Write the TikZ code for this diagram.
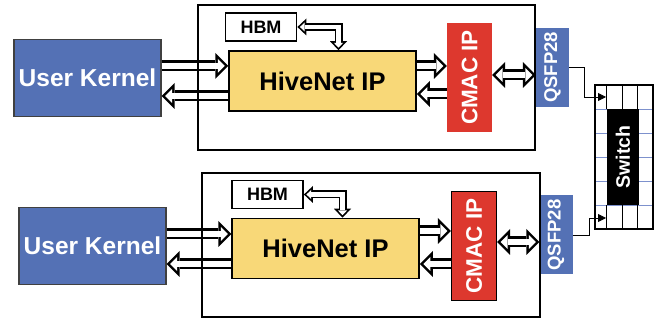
\documentclass[tikz,border=0pt]{standalone}
\usepackage{fontspec}
\setmainfont{Liberation Sans}
\usetikzlibrary{arrows.meta}
\definecolor{kernelblue}{RGB}{84,113,181}
\definecolor{hiveyellow}{RGB}{248,216,120}
\definecolor{cmacred}{RGB}{221,56,46}
\definecolor{gridblue}{RGB}{125,145,205}
\begin{document}
\begin{tikzpicture}[x=1pt, y=-1pt,
	kernel/.style = {draw=black!75, line width=1.2pt, fill=kernelblue, text=white, font=\fontsize{24.5}{28}\selectfont\bfseries, minimum width=147, minimum height=77, inner sep=0pt},
	hive/.style = {draw, line width=1.5pt, fill=hiveyellow, font=\fontsize{25.5}{28}\selectfont\bfseries, minimum width=187, minimum height=60, inner sep=0pt},
	hbm/.style = {draw, line width=1.8pt, fill=white, font=\fontsize{18}{20}\selectfont\bfseries, minimum width=71, minimum height=28, inner sep=0pt},
	cmac/.style = {fill=cmacred, text=white, font=\fontsize{22.5}{24}\selectfont\bfseries, minimum width=45, minimum height=109, inner sep=0pt},
	qsfp/.style = {fill=kernelblue, text=white, font=\fontsize{18.5}{20}\selectfont\bfseries, minimum width=33, minimum height=79, inner sep=0pt},
	core/.style = {fill=black, text=white, font=\fontsize{19.5}{22}\selectfont\bfseries, minimum width=32, minimum height=96, inner sep=0pt},
	fpga/.style = {draw, line width=2.5pt},
	pipe/.style = {line width=11pt, -{Triangle[length=13pt,width=26pt,line width=0pt]},
		postaction={draw=white, line width=6pt, -{Triangle[length=7pt,width=14pt,line width=0pt]}, shorten >=3.5pt}},
	pipes/.style = {line width=11pt, {Triangle[length=13pt,width=26pt,line width=0pt]}-{Triangle[length=13pt,width=26pt,line width=0pt]},
		postaction={draw=white, line width=6pt, {Triangle[length=7pt,width=14pt,line width=0pt]}-{Triangle[length=7pt,width=14pt,line width=0pt]}, shorten >=3.5pt, shorten <=3.5pt}},
	thinpipes/.style = {line width=8pt, {Triangle[length=9pt,width=17pt,line width=0pt]}-{Triangle[length=9pt,width=17pt,line width=0pt]},
		postaction={draw=white, line width=4.6pt, {Triangle[length=4.8pt,width=9pt,line width=0pt]}-{Triangle[length=4.8pt,width=9pt,line width=0pt]}, shorten >=2.5pt, shorten <=2.5pt}},
	wire/.style = {line width=0.8pt, -{Triangle[length=8pt,width=8pt]}}]
	\useasboundingbox (0,0) rectangle (667,323);

	% upper board
	\node[kernel] (uk1) at (87.5,78) {User Kernel};
	\node[hive] (hive1) at (322.5,81) {HiveNet IP};
	\node[hbm] (hbm1) at (261,27) {HBM};
	\node[cmac] (cmac1) at (469.5,77.5) {\rotatebox{90}{CMAC IP}};
	\node[qsfp] (qsfp1) at (552.5,67.5) {\rotatebox{90}{QSFP28}};
	\draw[pipe] (uk1.east |- 0,66) -- (hive1.west |- 0,66);
	\draw[pipe] (hive1.west |- 0,96) -- (uk1.east |- 0,96);
	\draw[pipe] (hive1.east |- 0,66) -- (cmac1.west |- 0,66);
	\draw[pipe] (cmac1.west |- 0,94) -- (hive1.east |- 0,94);
	\draw[pipes] (cmac1.east |- 0,75) -- (qsfp1.west |- 0,75);
	\draw[thinpipes] (hbm1.east) -| ([xshift=16pt]hive1.north);
	\draw[fpga] (198,5) rectangle (535,150);

	% lower board
	\node[kernel] (uk2) at (92.5,246) {User Kernel};
	\node[hive] (hive2) at (325.5,248.5) {HiveNet IP};
	\node[hbm] (hbm2) at (267.5,194.5) {HBM};
	\node[cmac, draw, line width=1.2pt] (cmac2) at (474,246) {\rotatebox{90}{CMAC IP}};
	\node[qsfp] (qsfp2) at (556,235) {\rotatebox{90}{QSFP28}};
	\draw[pipe] (uk2.east |- 0,234) -- (hive2.west |- 0,234);
	\draw[pipe] (hive2.west |- 0,264) -- (uk2.east |- 0,264);
	\draw[pipe] (hive2.east |- 0,231) -- (cmac2.west |- 0,231);
	\draw[pipe] (cmac2.west |- 0,264) -- (hive2.east |- 0,264);
	\draw[pipes] (cmac2.east |- 0,242) -- (qsfp2.west |- 0,242);
	\draw[thinpipes] (hbm2.east) -| ([xshift=17pt]hive2.north);
	\draw[fpga] (202,173) rectangle (540,317);

	% switch
	\foreach \y in {109,133,157,181,205}
		\draw[gridblue, line width=0.6pt] (595,\y) -- (653,\y);
	\foreach \x in {606,622,637} {
		\draw[line width=0.9pt] (\x,85) -- (\x,109);
		\draw[line width=0.9pt] (\x,205) -- (\x,229);
	}
	\node[core] (sw) at (623,157) {\rotatebox{90}{Switch}};
	\draw[line width=1.5pt] (595,85) rectangle (653,229);
	\coordinate (swin1) at (606,97);
	\coordinate (swin2) at (606,218);
	\draw[wire] (qsfp1.east) -- ++(15,0) |- (swin1);
	\draw[wire] (qsfp2.east) -- ++(17,0) |- (swin2);
\end{tikzpicture}
\end{document}
